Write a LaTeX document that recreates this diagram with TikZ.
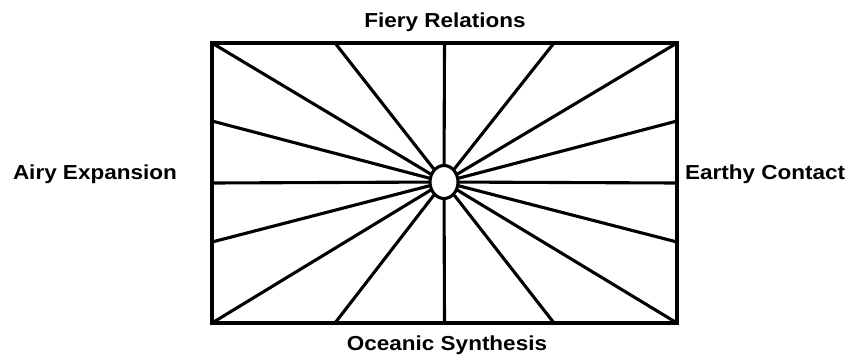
\documentclass[tikz,border=0pt]{standalone}
\usepackage{fontspec}
\setmainfont{Liberation Sans}
\usepackage{graphicx}
\usetikzlibrary{shapes.geometric}
\begin{document}
\begin{tikzpicture}[x=1pt,y=-1pt,
  edge/.style={line width=3.1pt,line cap=round},
  lbl/.style={inner sep=0pt,font=\bfseries\fontsize{22.5}{23}\selectfont}]
\useasboundingbox (0,0) rectangle (850,362);
\node[draw,line width=3.1pt,minimum width=465pt,minimum height=280pt,inner sep=0pt] (r) at (444.5,183) {};
\node[draw,line width=3.1pt,ellipse,fill=white,minimum width=28pt,minimum height=33pt,inner sep=0pt] (c) at (444,182) {};
% top
\coordinate (t1) at (212,43);
\coordinate (t2) at (335,43);
\coordinate (t3) at (444.5,43);
\coordinate (t4) at (554,43);
\coordinate (t5) at (677,43);
% bottom
\coordinate (b1) at (212,323);
\coordinate (b2) at (335,323);
\coordinate (b3) at (444.5,323);
\coordinate (b4) at (554,323);
\coordinate (b5) at (677,323);
% left / right
\coordinate (l2) at (212,121);
\coordinate (l3) at (212,183);
\coordinate (l4) at (212,242);
\coordinate (r2) at (677,121);
\coordinate (r3) at (677,183);
\coordinate (r4) at (677,242);
\foreach \p in {t1,t2,t3,t4,t5,b1,b2,b3,b4,b5,l2,l3,l4,r2,r3,r4}
  \draw[edge] (c) -- (\p);
\node[lbl] (fire) at (445,22) {\scalebox{1}[0.9]{Fiery Relations}};
\node[lbl] (ocean) at (447,345) {\scalebox{1}[0.9]{Oceanic Synthesis}};
\node[lbl,anchor=east] (air) at (177,174) {\scalebox{1}[0.9]{Airy Expansion}};
\node[lbl,anchor=west] (earth) at (685,174) {\scalebox{1}[0.9]{Earthy Contact}};
\end{tikzpicture}
\end{document}
